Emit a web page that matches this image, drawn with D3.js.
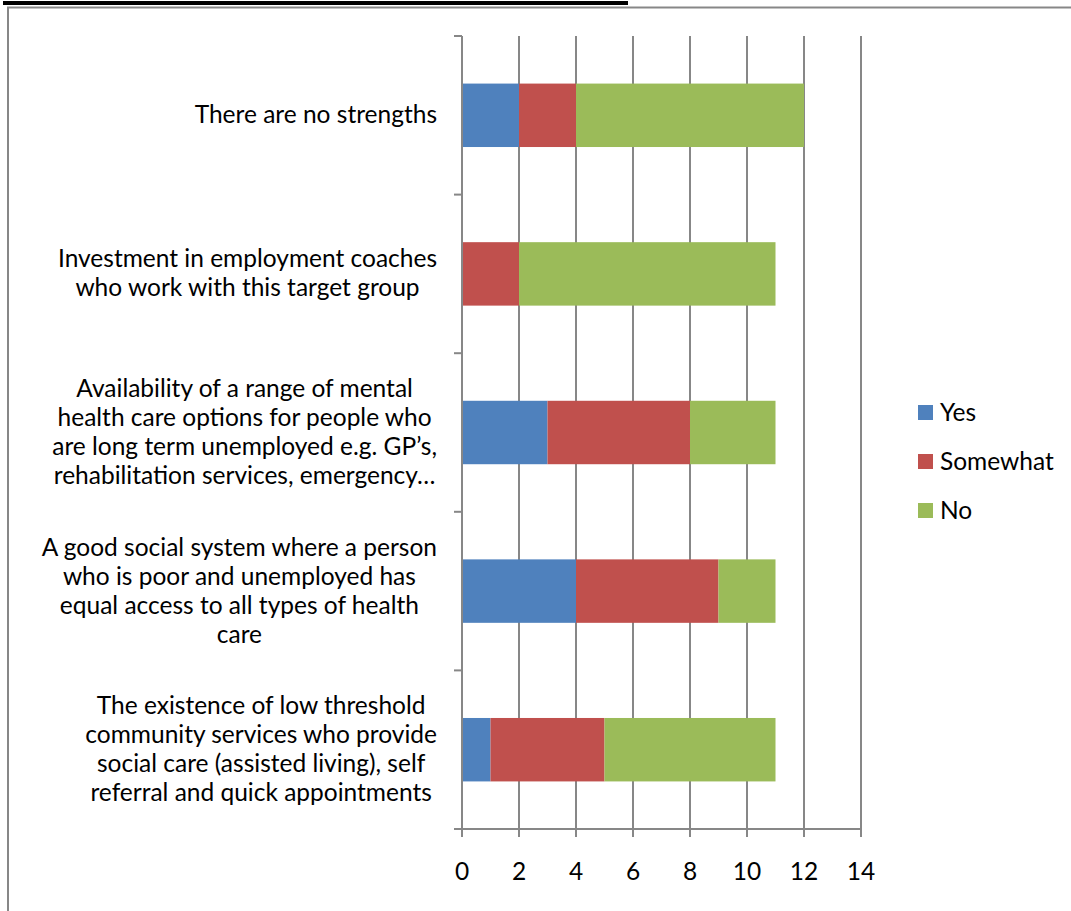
<!DOCTYPE html>
<html>
<head>
<meta charset="utf-8">
<script src="https://cdn.jsdelivr.net/npm/d3@7"></script>
<style>
  html, body { margin: 0; padding: 0; background: #fff; }
  svg { display: block; }
  text { font-family: Lato, "Open Sans", sans-serif; fill: #000; }
</style>
</head>
<body>
<svg id="chart" width="1071" height="911"></svg>
<script>
// ---- data ----
const categories = [
  "There are no strengths",
  "Investment in employment coaches who work with this target group",
  "Availability of a range of mental health care options for people who are long term unemployed e.g. GP’s, rehabilitation services, emergency…",
  "A good social system where a person who is poor and unemployed has equal access to all types of health care",
  "The existence of low threshold community services who provide social care (assisted living), self referral and quick appointments"
];
const categoryLines = [
  ["There are no strengths"],
  ["Investment in employment coaches", "who work with this target group"],
  ["Availability of a range of mental", "health care options for people who", "are long term unemployed e.g. GP’s,", "rehabilitation services, emergency…"],
  ["A good social system where a person", "who is poor and unemployed has", "equal access to all types of health", "care"],
  ["The existence of low threshold", "community services who provide", "social care (assisted living), self", "referral and quick appointments"]
];
const seriesNames = ["Yes", "Somewhat", "No"];
const yesValues = [2, 0, 3, 4, 1];
const somewhatValues = [2, 2, 5, 5, 4];
const noValues = [8, 9, 3, 2, 6];
const xTicks = [0, 2, 4, 6, 8, 10, 12, 14];
const colors = ["#4F81BD", "#C0504D", "#9BBB59"];

// ---- build ----
const svg = d3.select("#chart");
const FS = 24.5;

// top cut-off underline of the document heading
svg.append("rect").attr("x", 3).attr("y", 1).attr("width", 625).attr("height", 4).attr("fill", "#000");

// chart frame
svg.append("path")
  .attr("d", "M8,911 L8,7.5 L1071,7.5")
  .attr("fill", "none").attr("stroke", "#878787").attr("stroke-width", 2);

const x = d3.scaleLinear().domain([0, 14]).range([462, 861]);
const y = d3.scaleBand().domain(categories).range([36, 829]).paddingInner(0.6).paddingOuter(0.3);
const step = y.step();

const rows = categories.map((c, i) => ({ cat: c, Yes: yesValues[i], Somewhat: somewhatValues[i], No: noValues[i] }));
const stacked = d3.stack().keys(seriesNames)(rows);

const gridColor = "#878787";

// gridlines (with ticks below axis)
svg.append("g").selectAll("line").data(xTicks.slice(1)).join("line")
  .attr("x1", d => x(d)).attr("x2", d => x(d))
  .attr("y1", 36).attr("y2", 837)
  .attr("stroke", gridColor).attr("stroke-width", 2);

// bars
svg.append("g").selectAll("g").data(stacked).join("g")
  .attr("fill", (d, i) => colors[i])
  .selectAll("rect").data(d => d.filter(p => p[1] - p[0] > 0)).join("rect")
  .attr("x", d => x(d[0]))
  .attr("width", d => x(d[1]) - x(d[0]))
  .attr("y", d => y(d.data.cat))
  .attr("height", y.bandwidth());

// vertical axis line
svg.append("line").attr("x1", x(0)).attr("x2", x(0)).attr("y1", 36).attr("y2", 837)
  .attr("stroke", gridColor).attr("stroke-width", 2);
// category ticks at band boundaries
const boundaries = d3.range(categories.length + 1).map(i => 36 + i * step);
svg.append("g").selectAll("line").data(boundaries).join("line")
  .attr("x1", x(0) - 8).attr("x2", x(0))
  .attr("y1", d => d).attr("y2", d => d)
  .attr("stroke", gridColor).attr("stroke-width", 2);
// horizontal axis
svg.append("line").attr("x1", x(0) - 8).attr("x2", x(14)).attr("y1", 829).attr("y2", 829)
  .attr("stroke", gridColor).attr("stroke-width", 2);

// x tick labels
svg.append("g").selectAll("text").data(xTicks).join("text")
  .attr("x", d => x(d)).attr("y", 880)
  .attr("text-anchor", "middle").attr("font-size", FS)
  .text(d => d);

// category labels (centred block, right edge at 437)
const lh = 29;
const rightEdge = 437;
categories.forEach((c, i) => {
  const lines = categoryLines[i];
  const cy = y(c) + y.bandwidth() / 2;
  const t = svg.append("text").attr("text-anchor", "middle").attr("font-size", FS);
  const spans = lines.map((ln, j) => t.append("tspan")
      .attr("y", cy + (j - (lines.length - 1) / 2) * lh + 8)
      .text(ln));
  const maxW = d3.max(spans, s => s.node().getComputedTextLength());
  spans.forEach(s => s.attr("x", rightEdge - maxW / 2));
});

// legend
const legendY = [412, 461, 510];
const lg = svg.append("g");
seriesNames.forEach((s, i) => {
  lg.append("rect").attr("x", 918).attr("y", legendY[i] - 7).attr("width", 15).attr("height", 15).attr("fill", colors[i]);
  lg.append("text").attr("x", 940).attr("y", legendY[i] + 9).attr("font-size", FS).text(s);
});
</script>
</body>
</html>
